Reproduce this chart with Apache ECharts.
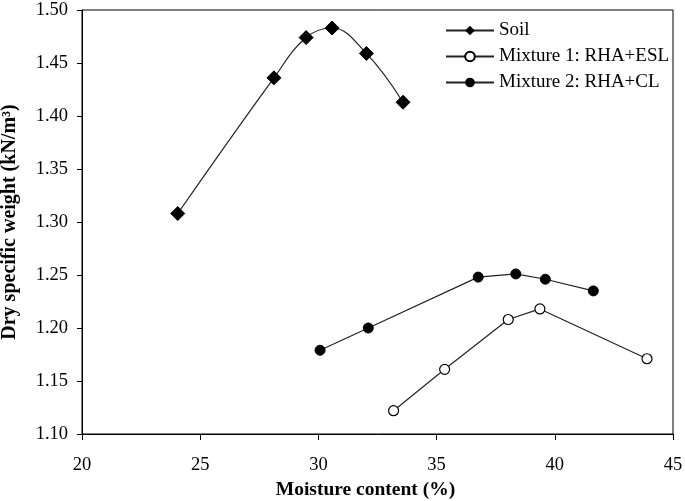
<!DOCTYPE html>
<html>
<head>
<meta charset="utf-8">
<script src="https://cdn.jsdelivr.net/npm/echarts@6/dist/echarts.min.js"></script>
<style>html,body{margin:0;padding:0;background:#fff}#c{width:685px;height:501px}</style>
</head>
<body>
<div id="c"></div>
<script>
const soilX = [24.05, 28.12, 29.48, 30.58, 32.03, 33.58];
const soilY = [1.308, 1.436, 1.474, 1.483, 1.459, 1.413];
const mix1X = [33.18, 35.34, 38.03, 39.37, 43.90];
const mix1Y = [1.122, 1.161, 1.208, 1.218, 1.171];
const mix2X = [30.07, 32.11, 36.76, 38.35, 39.60, 41.63];
const mix2Y = [1.179, 1.200, 1.248, 1.251, 1.246, 1.235];
const seriesNames = ['Soil', 'Mixture 1: RHA+ESL', 'Mixture 2: RHA+CL'];

const pairs = (xs, ys) => xs.map((x, i) => [x, ys[i]]);
const font = 'Liberation Serif';
const chart = echarts.init(document.getElementById('c'), null, {renderer: 'canvas'});
chart.setOption({
  animation: false,
  backgroundColor: '#fff',
  grid: {left: 82, right: 12, top: 10, bottom: 67, show: true, borderColor: '#000', borderWidth: 1,
         backgroundColor: 'transparent', outerBoundsMode: 'none', containLabel: false},
  legend: {
    top: 21, left: 445, padding: 0, orient: 'vertical', itemGap: 7, itemWidth: 48, itemHeight: 12,
    textStyle: {fontFamily: font, fontSize: 19, color: '#000'},
    data: seriesNames
  },
  xAxis: {
    type: 'value', min: 20, max: 45, interval: 5,
    name: 'Moisture content (%)', nameLocation: 'middle', nameGap: 46,
    nameTextStyle: {fontFamily: font, fontSize: 19.5, fontWeight: 'bold', color: '#000', padding: [0, 24, 0, 0]},
    axisLine: {show: true, lineStyle: {color: '#000', width: 1}},
    axisTick: {show: true, inside: false, length: 6, lineStyle: {color: '#000'}},
    axisLabel: {fontFamily: font, fontSize: 18.5, color: '#000', margin: 22},
    splitLine: {show: false}
  },
  yAxis: {
    type: 'value', min: 1.10, max: 1.50, interval: 0.05,
    name: 'Dry specific weight (kN/m³)', nameLocation: 'middle', nameGap: 62,
    nameTextStyle: {fontFamily: font, fontSize: 20, fontWeight: 'bold', color: '#000'},
    axisLine: {show: true, lineStyle: {color: '#000', width: 1}},
    axisTick: {show: true, inside: false, length: 5, lineStyle: {color: '#000'}},
    axisLabel: {fontFamily: font, fontSize: 18.5, color: '#000', margin: 14, formatter: v => v.toFixed(2)},
    splitLine: {show: false}
  },
  series: [
    {name: seriesNames[0], type: 'line', smooth: 0.4, data: pairs(soilX, soilY),
     symbol: 'diamond', symbolSize: 14,
     itemStyle: {color: '#000', borderColor: '#000'}, lineStyle: {color: '#222', width: 1.2}},
    {name: seriesNames[1], type: 'line', data: pairs(mix1X, mix1Y),
     symbol: 'circle', symbolSize: 10,
     itemStyle: {color: '#fff', borderColor: '#000', borderWidth: 1.2}, lineStyle: {color: '#222', width: 1.2}},
    {name: seriesNames[2], type: 'line', data: pairs(mix2X, mix2Y),
     symbol: 'circle', symbolSize: 10,
     itemStyle: {color: '#000', borderColor: '#000'}, lineStyle: {color: '#222', width: 1.2}}
  ]
});
</script>
</body>
</html>
